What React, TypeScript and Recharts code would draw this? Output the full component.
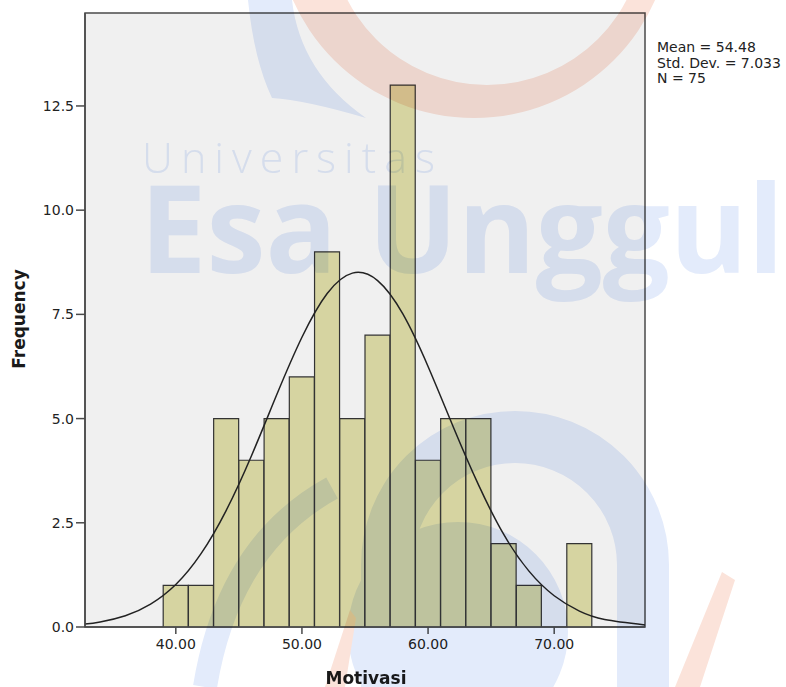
import {
  Bar,
  CartesianGrid,
  ComposedChart,
  Line,
  ReferenceArea,
  XAxis,
  YAxis,
} from "recharts";

// histogram bins (bin centres, width 2)
const binCenters = [40, 42, 44, 46, 48, 50, 52, 54, 56, 58, 60, 62, 64, 66, 68, 70, 72];
const binCounts = [1, 1, 5, 4, 5, 6, 9, 5, 7, 13, 4, 5, 5, 2, 1, 0, 2];

// normal curve
const curveX = [32.8, 34, 36, 38, 40, 42, 44, 46, 48, 50, 52, 54, 56, 58, 60, 62, 64, 66, 68, 70, 72, 74, 77.2];
const curveY = [0.07, 0.12, 0.27, 0.55, 1.02, 1.76, 2.8, 4.11, 5.57, 6.95, 8.0, 8.49, 8.31, 7.51, 6.25, 4.8, 3.41, 2.22, 1.34, 0.75, 0.38, 0.18, 0.05];

const xTicks = [40, 50, 60, 70];
const yTicks = [0, 2.5, 5, 7.5, 10, 12.5];
const xDomain = [32.8, 77.2];
const yDomain = [0, 14.73];

const stats = ["Mean = 54.48", "Std. Dev. = 7.033", "N = 75"];

const bins = binCenters.map((c, i) => ({ center: c, count: binCounts[i] }));
const curve = curveX.map((x, i) => ({ x, y: curveY[i] }));

const FONT = "'DejaVu Sans', sans-serif";
const AXIS = "#4a4a4a";
const WM_BLUE = "#e3ebfb";
const WM_ORANGE = "#fbe3da";

function Watermark() {
  return (
    <svg
      width={786}
      height={687}
      style={{ position: "absolute", left: 0, top: 0, pointerEvents: "none", mixBlendMode: "multiply" }}
    >
      {/* orange crescent at the top */}
      <path
        fillRule="evenodd"
        fill={WM_ORANGE}
        d="M276,-80 a198,198 0 1,0 396,0 a198,198 0 1,0 -396,0 Z M330,-72 a157,157 0 1,0 314,0 a157,157 0 1,0 -314,0 Z"
      />
      {/* blue swoosh top-left */}
      <path fill={WM_BLUE} d="M248,0 L292,0 Q300,72 366,118 Q305,100 272,98 Q254,60 248,0 Z" />
      {/* blue rings bottom */}
      <path d="M387,687 L387,565 A128,128 0 0,1 643,565 L643,687" fill="none" stroke={WM_BLUE} strokeWidth={52} />
      <circle cx={458} cy={632} r={110} fill={WM_BLUE} />
      <path d="M205,687 Q228,545 332,488" fill="none" stroke={WM_BLUE} strokeWidth={24} />
      {/* orange streaks bottom */}
      <path d="M722,572 L735,580 L700,687 L675,687 Z" fill={WM_ORANGE} />
      <path d="M350,610 L356,618 L345,687 L325,687 Z" fill={WM_ORANGE} />
      <text
        x={142}
        y={173}
        fontFamily="'Open Sans', sans-serif"
        fontWeight={300}
        fontSize={43}
        fill={WM_BLUE}
        textLength={293}
        lengthAdjust="spacing"
      >
        Universitas
      </text>
      <text
        x={140}
        y={273}
        fontFamily="'Open Sans', sans-serif"
        fontWeight={700}
        fontSize={122}
        fill={WM_BLUE}
        textLength={644}
        lengthAdjust="spacingAndGlyphs"
      >
        Esa Unggul
      </text>
    </svg>
  );
}

export default function App() {
  return (
    <div style={{ position: "absolute", left: 0, top: 0, width: 786, height: 687, background: "#fff", fontFamily: FONT }}>
      <ComposedChart
        width={786}
        height={687}
        data={bins}
        barCategoryGap={0}
        barGap={0}
        margin={{ top: 13, right: 141, bottom: 30, left: 25 }}
      >
        <CartesianGrid horizontal={false} vertical={false} fill="#f0f0f0" />
        <XAxis
          dataKey="center"
          type="number"
          domain={xDomain}
          allowDataOverflow
          ticks={xTicks}
          tickFormatter={(v) => Number(v).toFixed(2)}
          height={30}
          tickSize={7}
          tickMargin={5}
          stroke={AXIS}
          strokeWidth={1.5}
          tick={{ fill: "#222", fontSize: 14, fontFamily: FONT }}
        />
        <XAxis xAxisId="curve" dataKey="x" type="number" domain={xDomain} allowDataOverflow hide />
        <YAxis
          type="number"
          domain={yDomain}
          allowDataOverflow
          ticks={yTicks}
          tickFormatter={(v) => Number(v).toFixed(1)}
          width={60}
          tickSize={9}
          tickMargin={2}
          stroke={AXIS}
          strokeWidth={1.5}
          tick={{ fill: "#222", fontSize: 14, fontFamily: FONT }}
        />
        {/* plot frame */}
        <ReferenceArea
          x1={xDomain[0]}
          x2={xDomain[1]}
          y1={yDomain[0]}
          y2={yDomain[1]}
          fill="none"
          fillOpacity={0}
          stroke={AXIS}
          strokeWidth={1.5}
          ifOverflow="visible"
        />
        <Bar dataKey="count" fill="#d6d4a1" stroke="#333" strokeWidth={1.2} isAnimationActive={false} />
        <Line
          xAxisId="curve"
          data={curve}
          dataKey="y"
          type="natural"
          stroke="#222"
          strokeWidth={1.5}
          dot={false}
          activeDot={false}
          isAnimationActive={false}
        />
      </ComposedChart>

      <div style={{ position: "absolute", left: 657, top: 40, fontSize: 14, lineHeight: "15.5px", color: "#222" }}>
        {stats.map((s) => (
          <div key={s}>{s}</div>
        ))}
      </div>
      <div
        style={{
          position: "absolute",
          left: 366,
          top: 668,
          transform: "translateX(-50%)",
          fontSize: 17,
          fontWeight: 700,
          color: "#1a1a1a",
          whiteSpace: "nowrap",
        }}
      >
        Motivasi
      </div>
      <div
        style={{
          position: "absolute",
          left: 19,
          top: 319,
          transform: "translate(-50%, -50%) rotate(-90deg)",
          fontSize: 17,
          fontWeight: 700,
          color: "#1a1a1a",
          whiteSpace: "nowrap",
        }}
      >
        Frequency
      </div>
      <Watermark />
    </div>
  );
}
